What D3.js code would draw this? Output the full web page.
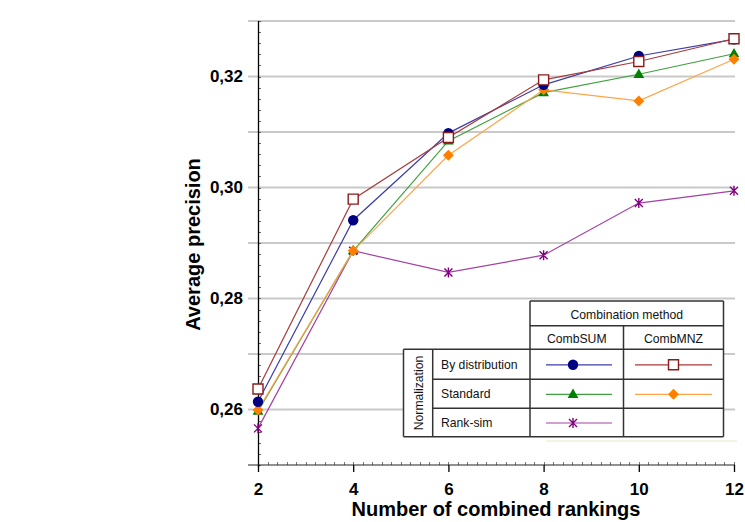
<!DOCTYPE html>
<html>
<head>
<meta charset="utf-8">
<script src="https://cdn.jsdelivr.net/npm/d3@7/dist/d3.min.js"></script>
<style>
  html, body { margin: 0; padding: 0; background: #fff; }
  svg { display: block; font-family: "Liberation Sans", Arial, sans-serif; }
</style>
</head>
<body>
<svg id="chart" width="745" height="522"></svg>
<script>
// Number of rankings combined (x axis)
const rankings = [2, 4, 6, 8, 10, 12];

// Average precision per normalization / combination method
const byDistSum   = [0.2614, 0.2941, 0.3098, 0.3185, 0.3237, 0.3267];
const byDistMnz   = [0.2637, 0.2979, 0.3090, 0.3194, 0.3227, 0.3268];
const standardSum = [0.2597, 0.2886, 0.3084, 0.3171, 0.3204, 0.3241];
const standardMnz = [0.2599, 0.2886, 0.3058, 0.3176, 0.3156, 0.3231];
const rankSimSum  = [0.2566, 0.2886, 0.2847, 0.2878, 0.2972, 0.2994];

// Axis ticks
const xTicks = [2, 4, 6, 8, 10, 12];
const yLabelTicks = [0.26, 0.28, 0.30, 0.32];
const yGridTicks = [0.26, 0.27, 0.28, 0.29, 0.30, 0.31, 0.32, 0.33];

// Legend text
const methodTitle = "Combination method";
const methodNames = ["CombSUM", "CombMNZ"];
const normTitle = "Normalization";
const normNames = ["By distribution", "Standard", "Rank-sim"];

const series = [
  { values: rankSimSum,  line: "#a342a3", fill: "#800080", shape: "asterisk", row: 2, col: 0 },
  { values: standardSum, line: "#3fa03f", fill: "#008000", shape: "triangle", row: 1, col: 0 },
  { values: standardMnz, line: "#ffa448", fill: "#ff8000", shape: "diamond",  row: 1, col: 1 },
  { values: byDistSum,   line: "#3c3ca8", fill: "#000080", shape: "circle",   row: 0, col: 0 },
  { values: byDistMnz,   line: "#a83a3a", fill: "#ffffff", stroke: "#8b1a1a", shape: "square", row: 0, col: 1 }
];

const svg = d3.select("#chart");
const x = d3.scaleLinear().domain([2, 12]).range([258, 734]);
const y = d3.scaleLinear().domain([0.25, 0.33]).range([465, 21]);
const comma = d3.formatLocale({ decimal: ",", thousands: ".", grouping: [3], currency: ["", ""] }).format(".2f");

// Horizontal gridlines
svg.append("g").selectAll("line").data(yGridTicks).join("line")
  .attr("x1", 248).attr("x2", 735)
  .attr("y1", d => y(d)).attr("y2", d => y(d))
  .attr("stroke", "#c9c9c9").attr("stroke-width", 2);

// Faint rule under the legend
svg.append("line").attr("x1", 546).attr("x2", 737).attr("y1", 441).attr("y2", 441)
  .attr("stroke", "#f3efdc").attr("stroke-width", 1.5);

// Minor ticks on the y axis
svg.append("g").selectAll("line").data(d3.range(0.25, 0.3301, 0.002)).join("line")
  .attr("x1", 258).attr("x2", 261)
  .attr("y1", d => Math.round(y(d)) + 0.5).attr("y2", d => Math.round(y(d)) + 0.5)
  .attr("stroke", "#666").attr("stroke-width", 1);

// Minor ticks on the x axis
svg.append("g").selectAll("line").data(d3.range(2, 12.001, 0.2)).join("line")
  .attr("x1", d => Math.round(x(d)) + 0.5).attr("x2", d => Math.round(x(d)) + 0.5)
  .attr("y1", 465).attr("y2", 462)
  .attr("stroke", "#777").attr("stroke-width", 1);

// Bottom baseline and vertical axis
svg.append("line").attr("x1", 248).attr("x2", 735).attr("y1", y(0.25)).attr("y2", y(0.25))
  .attr("stroke", "#222").attr("stroke-width", 1.2);
svg.append("line").attr("x1", 258.5).attr("x2", 258.5).attr("y1", 21).attr("y2", 467)
  .attr("stroke", "#000").attr("stroke-width", 1.3);

// X axis
const xAxis = svg.append("g").attr("transform", `translate(0,${y(0.25)})`)
  .call(d3.axisBottom(x).tickValues(xTicks).tickSize(7).tickFormat(d3.format("d")));
xAxis.select(".domain").remove();
xAxis.selectAll(".tick line").attr("stroke", "#000").attr("stroke-width", 1.3);
xAxis.selectAll(".tick text")
  .attr("y", 30).attr("dy", 0)
  .attr("fill", "#000")
  .style("font-family", "'Liberation Sans', Arial, sans-serif")
  .style("font-weight", "bold").style("font-size", "17px");

// Y axis labels
const yAxis = svg.append("g").attr("transform", "translate(258,0)")
  .call(d3.axisLeft(y).tickValues(yLabelTicks).tickSize(0).tickPadding(15).tickFormat(comma));
yAxis.select(".domain").remove();
yAxis.selectAll(".tick text")
  .attr("fill", "#000")
  .style("font-family", "'Liberation Sans', Arial, sans-serif")
  .style("font-weight", "bold").style("font-size", "17px");

// Axis titles
svg.append("text").attr("x", 496).attr("y", 516).attr("text-anchor", "middle")
  .style("font-weight", "bold").style("font-size", "20px").text("Number of combined rankings");
svg.append("text").attr("transform", "translate(200,244.5) rotate(-90)").attr("text-anchor", "middle")
  .style("font-weight", "bold").style("font-size", "20px").text("Average precision");

// Marker drawing
function drawMarker(g, s, cx, cy) {
  const t = `translate(${cx},${cy})`;
  if (s.shape === "circle") {
    g.append("circle").attr("cx", cx).attr("cy", cy).attr("r", 5.2).attr("fill", s.fill);
  } else if (s.shape === "square") {
    g.append("path").attr("transform", t).attr("d", d3.symbol(d3.symbolSquare, 100)())
      .attr("fill", s.fill).attr("stroke", s.stroke).attr("stroke-width", 1.4);
  } else if (s.shape === "triangle") {
    g.append("path").attr("transform", `translate(${cx},${cy + 0.5})`).attr("d", d3.symbol(d3.symbolTriangle, 50)())
      .attr("fill", s.fill);
  } else if (s.shape === "diamond") {
    g.append("path").attr("transform", t).attr("d", "M0,-5.5L5.5,0L0,5.5L-5.5,0Z")
      .attr("fill", s.fill);
  } else if (s.shape === "asterisk") {
    // vertical stroke crossed by a diagonal X
    g.append("path").attr("transform", t)
      .attr("d", "M0,-5V5M-4,-4L4,4M-4,4L4,-4")
      .attr("fill", "none").attr("stroke", s.fill).attr("stroke-width", 1.4);
  }
}

// Series lines and markers
const line = d3.line().x((d, i) => x(rankings[i])).y(d => y(d));
const plot = svg.append("g");
series.forEach(s => {
  plot.append("path").datum(s.values).attr("d", line)
    .attr("fill", "none").attr("stroke", s.line).attr("stroke-width", 1.2);
  s.values.forEach((v, i) => drawMarker(plot, s, x(rankings[i]), y(v)));
});

// Legend table
const lg = svg.append("g");
const colX = [530, 623.5, 723.5];
const headY = [301, 325.7, 349.3];
const rowY = [349.3, 379.3, 408.3, 436.7];
const leftX = [403.5, 432.7, 530];
const bc = "#333", bw = 1.5;

lg.append("rect").attr("x", colX[0]).attr("y", headY[0]).attr("width", colX[2] - colX[0]).attr("height", rowY[3] - headY[0]).attr("fill", "#fff");
lg.append("rect").attr("x", leftX[0]).attr("y", rowY[0]).attr("width", colX[2] - leftX[0]).attr("height", rowY[3] - rowY[0]).attr("fill", "#fff");

function seg(x1, y1, x2, y2) {
  lg.append("line").attr("x1", x1).attr("y1", y1).attr("x2", x2).attr("y2", y2)
    .attr("stroke", bc).attr("stroke-width", bw);
}
// header block
seg(colX[0], headY[0], colX[2], headY[0]);
seg(colX[0], headY[1], colX[2], headY[1]);
seg(colX[0], headY[0], colX[0], rowY[3]);
seg(colX[2], headY[0], colX[2], rowY[3]);
seg(colX[1], headY[1], colX[1], rowY[3]);
// row block
rowY.forEach((ry, i) => seg(i === 0 || i === 3 ? leftX[0] : leftX[1], ry, colX[2], ry));
seg(leftX[0], rowY[0], leftX[0], rowY[3]);
seg(leftX[1], rowY[0], leftX[1], rowY[3]);

function ltext(xp, yp, txt, anchor) {
  return lg.append("text").attr("x", xp).attr("y", yp).attr("text-anchor", anchor)
    .style("font-size", "12.2px").style("fill", "#111").text(txt);
}
ltext((colX[0] + colX[2]) / 2, 318.5, methodTitle, "middle");
ltext((colX[0] + colX[1]) / 2, 342.5, methodNames[0], "middle");
ltext((colX[1] + colX[2]) / 2, 342.5, methodNames[1], "middle");
normNames.forEach((n, i) => ltext(441, (rowY[i] + rowY[i + 1]) / 2 + 4.3, n, "start"));
lg.append("text").attr("transform", `translate(423,${(rowY[0] + rowY[3]) / 2}) rotate(-90)`)
  .attr("text-anchor", "middle").style("font-size", "12.2px").style("fill", "#111").text(normTitle);

// Legend samples
const sampleX = [[546, 612, 573], [635, 712, 673.5]];
series.forEach(s => {
  const sx = sampleX[s.col];
  const cy = (rowY[s.row] + rowY[s.row + 1]) / 2 + 0.5;
  lg.append("line").attr("x1", sx[0]).attr("x2", sx[1]).attr("y1", cy).attr("y2", cy)
    .attr("stroke", s.line).attr("stroke-width", 1.2);
  drawMarker(lg, s, sx[2], cy);
});
</script>
</body>
</html>
